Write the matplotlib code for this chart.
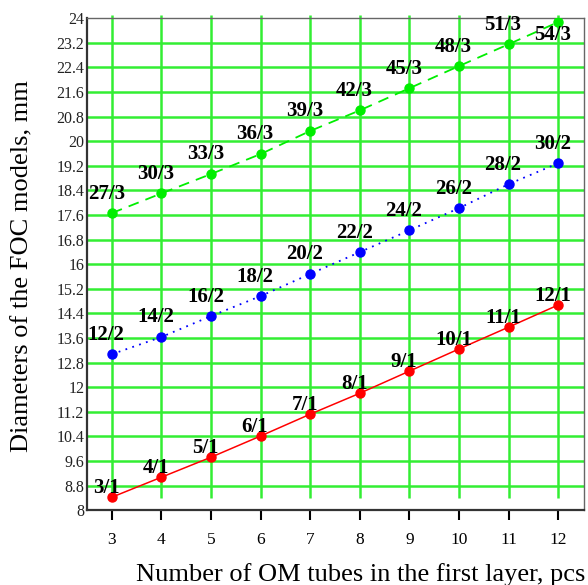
import numpy as np
import matplotlib as mpl
mpl.use('Agg')
import matplotlib.pyplot as plt

plt.rcParams['font.family'] = ['Liberation Serif', 'DejaVu Serif']

# number of OM tubes in the first layer
n_tubes = [3, 4, 5, 6, 7, 8, 9, 10, 11, 12]

# FOC model diameters, mm (one, two and three layers)
d_layer1 = [8.42, 9.07, 9.72, 10.41, 11.12, 11.80, 12.52, 13.24, 13.95, 14.67]
d_layer2 = [13.07, 13.63, 14.31, 14.96, 15.68, 16.39, 17.10, 17.82, 18.60, 19.28]
d_layer3 = [17.66, 18.30, 18.93, 19.58, 20.33, 21.00, 21.72, 22.44, 23.15, 23.87]

# total tubes / layers
lbl_layer1 = ["3/1", "4/1", "5/1", "6/1", "7/1", "8/1", "9/1", "10/1", "11/1", "12/1"]
lbl_layer2 = ["12/2", "14/2", "16/2", "18/2", "20/2", "22/2", "24/2", "26/2", "28/2", "30/2"]
lbl_layer3 = ["27/3", "30/3", "33/3", "36/3", "39/3", "42/3", "45/3", "48/3", "51/3", "54/3"]

y_ticks = [8, 8.8, 9.6, 10.4, 11.2, 12, 12.8, 13.6, 14.4, 15.2, 16, 16.8,
           17.6, 18.4, 19.2, 20, 20.8, 21.6, 22.4, 23.2, 24]

grid_col = "#33ee33"

fig = plt.figure(figsize=(5.88, 5.85), dpi=100)
ax = fig.add_axes([0.148, 0.128, 0.845, 0.841])

# grid
for yv in y_ticks[1:-1]:
    ax.axhline(yv, color=grid_col, lw=1.8, zorder=1)
ax.vlines(n_tubes, 8.4, 24.1, color=grid_col, lw=1.8, zorder=1, clip_on=False)

# curves
ax.plot(n_tubes, d_layer1, color="red", lw=1.1, marker="o", ms=6.5, zorder=3)
ax.plot(n_tubes, d_layer2, color="blue", lw=1.3, ls=(0, (1, 3)), marker="o", ms=6.5, zorder=3)
ax.plot(n_tubes, d_layer3, color="#00ee00", lw=1.3, ls=(0, (6, 4)), marker="o", ms=6.5, zorder=3)

lab_kw = dict(textcoords="offset points", ha="center", va="baseline",
              fontsize=15, fontweight="bold", zorder=4)
for x, y, s in zip(n_tubes, d_layer1, lbl_layer1):
    ax.annotate(s, (x, y), xytext=(-4, 3), **lab_kw)
for x, y, s in zip(n_tubes, d_layer2, lbl_layer2):
    ax.annotate(s, (x, y), xytext=(-4, 10.5), **lab_kw)
for x, y, s in zip(n_tubes[:-1], d_layer3[:-1], lbl_layer3[:-1]):
    ax.annotate(s, (x, y), xytext=(-4, 10.5), **lab_kw)
ax.annotate(lbl_layer3[-1], (n_tubes[-1], d_layer3[-1]), xytext=(-4, -13), **lab_kw)

ax.set_xlim(2.5, 12.52)
ax.set_ylim(8, 24)
ax.set_xticks(n_tubes)
ax.set_yticks(y_ticks)
ax.set_yticklabels(["%g" % v for v in y_ticks])
ax.tick_params(axis="x", length=7, width=1.5, color="black", labelsize=12.5, pad=9)
ax.tick_params(axis="y", length=0, labelsize=11.5, pad=2, labelcolor="#222222")

for side in ["left", "bottom"]:
    ax.spines[side].set_color("#333333")
    ax.spines[side].set_linewidth(1.6)
for side in ["top", "right"]:
    ax.spines[side].set_color("#666666")
    ax.spines[side].set_linewidth(1.0)

fig.text(361 / 588, 1 - 575 / 585, "Number of OM tubes in the first layer, pcs",
         ha="center", va="center", fontsize=19)
fig.text(22 / 588, 1 - 266 / 585, "Diameters of the FOC models, mm",
         ha="center", va="center", rotation=90, fontsize=19)

fig.savefig("out.png", dpi=100)
